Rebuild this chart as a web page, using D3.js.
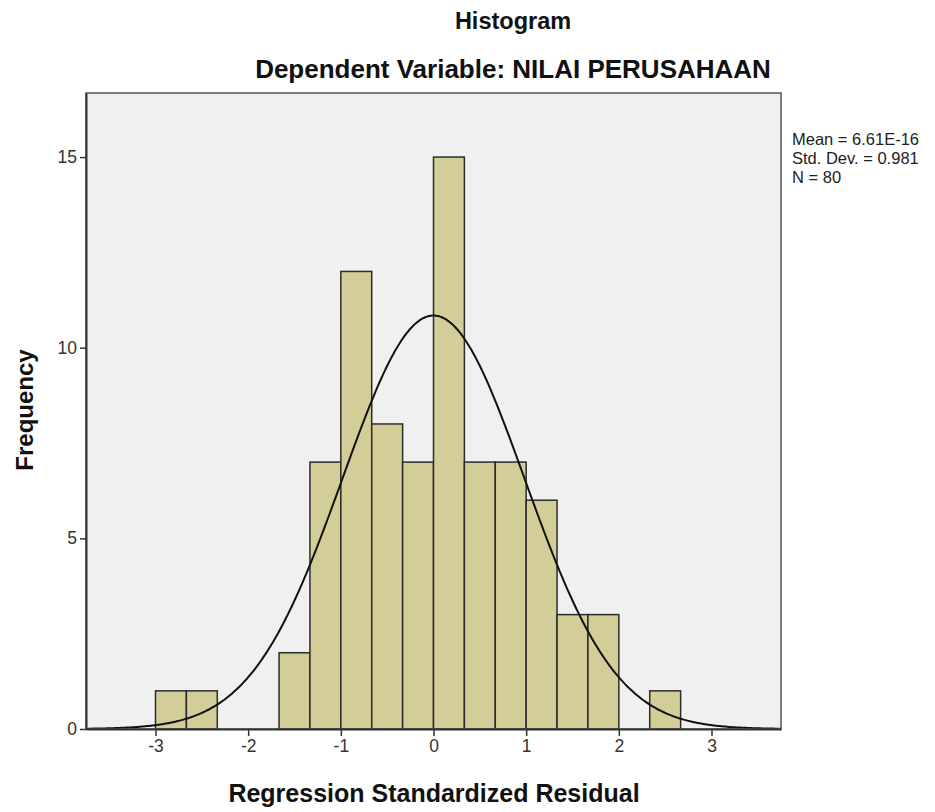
<!DOCTYPE html>
<html>
<head>
<meta charset="utf-8">
<script src="https://cdn.jsdelivr.net/npm/d3@7/dist/d3.min.js"></script>
<style>
  html, body { margin: 0; padding: 0; background: #ffffff; }
  svg { display: block; }
  text { font-family: Arial, "Liberation Sans", Helvetica, sans-serif; }
</style>
</head>
<body>
<svg id="chart" width="935" height="812"></svg>
<script>
// ---- data ----
const binStarts = [-3, -8/3, -7/3, -2, -5/3, -4/3, -1, -2/3, -1/3, 0, 1/3, 2/3, 1, 4/3, 5/3, 2, 7/3];
const binWidth = 1/3;
const frequencies = [1, 1, 0, 0, 2, 7, 12, 8, 7, 15, 7, 7, 6, 3, 3, 0, 1];
const xTicks = [-3, -2, -1, 0, 1, 2, 3];
const yTicks = [0, 5, 10, 15];
const statsMean = 6.61e-16;
const statsSD = 0.981;
const statsN = 80;
const legendLines = ["Mean = 6.61E-16", "Std. Dev. = 0.981", "N = 80"];
const titleText = "Histogram";
const subtitleText = "Dependent Variable: NILAI PERUSAHAAN";
const xTitle = "Regression Standardized Residual";
const yTitle = "Frequency";

// ---- layout ----
const L = 86, R = 781, T = 93, B = 729;
const svg = d3.select("#chart");

const x = d3.scaleLinear().domain([-3.75, 3.75]).range([L, R]);
const y = d3.scaleLinear().domain([0, 16.68]).range([B, T]);

// plot background
svg.append("rect")
  .attr("x", L).attr("y", T).attr("width", R - L).attr("height", B - T)
  .attr("fill", "#f0f0f0");

// bars
const bins = binStarts.map((s, i) => ({ x0: s, x1: s + binWidth, n: frequencies[i] }));
svg.append("g").selectAll("rect")
  .data(bins.filter(d => d.n > 0))
  .join("rect")
  .attr("x", d => x(d.x0))
  .attr("y", d => y(d.n))
  .attr("width", d => x(d.x1) - x(d.x0))
  .attr("height", d => y(0) - y(d.n))
  .attr("fill", "#d3ce97")
  .attr("stroke", "#2b2b2b")
  .attr("stroke-width", 1.5);

// normal curve from stated statistics
const curvePts = d3.range(-3.75, 3.7501, 0.02).map(v => {
  const z = (v - statsMean) / statsSD;
  const f = statsN * binWidth * Math.exp(-0.5 * z * z) / (statsSD * Math.sqrt(2 * Math.PI));
  return [v, f];
});
svg.append("path")
  .datum(curvePts)
  .attr("fill", "none")
  .attr("stroke", "#111")
  .attr("stroke-width", 2)
  .attr("d", d3.line().x(d => x(d[0])).y(d => y(d[1])).curve(d3.curveBasis));

// frame (top / right)
svg.append("rect")
  .attr("x", L).attr("y", T).attr("width", R - L).attr("height", B - T)
  .attr("fill", "none").attr("stroke", "#555").attr("stroke-width", 1.5);

// axes
const xAxis = d3.axisBottom(x).tickValues(xTicks).tickSizeInner(7).tickSizeOuter(0).tickPadding(4).tickFormat(d3.format("d"));
const gx = svg.append("g").attr("transform", `translate(0,${B})`).call(xAxis);
gx.select(".domain").attr("stroke", "#333").attr("stroke-width", 2);
gx.selectAll(".tick line").attr("stroke", "#333").attr("stroke-width", 1.5);
gx.selectAll(".tick text").attr("font-size", 17.5).attr("fill", "#333")
  .attr("font-family", "Arial, 'Liberation Sans', sans-serif")
  .text(d => d < 0 ? "-" + Math.abs(d) : String(d));

const yAxis = d3.axisLeft(y).tickValues(yTicks).tickSizeInner(6).tickSizeOuter(0).tickPadding(3).tickFormat(d3.format("d"));
const gy = svg.append("g").attr("transform", `translate(${L},0)`).call(yAxis);
gy.select(".domain").attr("stroke", "#333").attr("stroke-width", 2);
gy.selectAll(".tick line").attr("stroke", "#333").attr("stroke-width", 1.5);
gy.selectAll(".tick text").attr("font-size", 17.5).attr("fill", "#333")
  .attr("font-family", "Arial, 'Liberation Sans', sans-serif");

// titles
svg.append("text").attr("x", 513).attr("y", 29).attr("text-anchor", "middle")
  .attr("font-size", 23.5).attr("font-weight", "bold").attr("fill", "#111").text(titleText);
svg.append("text").attr("x", 513).attr("y", 78).attr("text-anchor", "middle")
  .attr("font-size", 26).attr("font-weight", "bold").attr("fill", "#111").text(subtitleText);
svg.append("text").attr("x", 434).attr("y", 802).attr("text-anchor", "middle")
  .attr("font-size", 25).attr("font-weight", "bold").attr("fill", "#111").text(xTitle);
svg.append("text").attr("transform", `translate(33,410) rotate(-90)`).attr("text-anchor", "middle")
  .attr("font-size", 24).attr("font-weight", "bold").attr("fill", "#111").text(yTitle);

// legend
svg.append("g").selectAll("text")
  .data(legendLines)
  .join("text")
  .attr("x", 792)
  .attr("y", (d, i) => 145 + i * 19)
  .attr("font-size", 16.5)
  .attr("fill", "#222")
  .text(d => d);
</script>
</body>
</html>
